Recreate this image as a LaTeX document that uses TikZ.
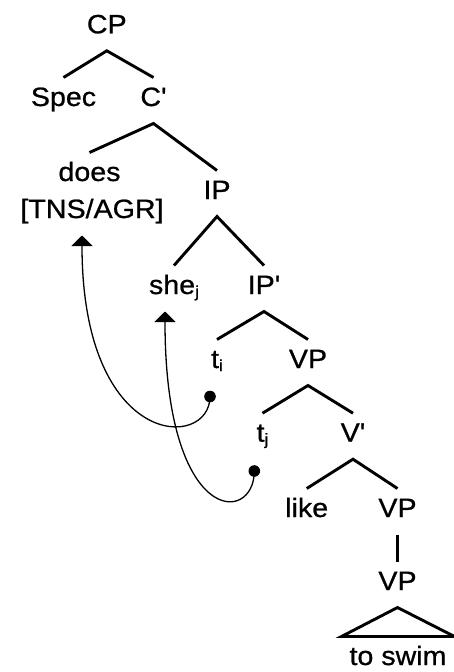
\documentclass[tikz,border=0pt]{standalone}
\usepackage{fontspec}
\newfontfamily\labfont{Liberation Sans}[FakeStretch=1.08,FakeBold=0.8]
\usetikzlibrary{arrows.meta}
\newcommand\subs[1]{\raisebox{-3pt}{\fontsize{16}{16}\selectfont #1}}
\begin{document}
\begin{tikzpicture}[x=1pt,y=-1pt,
  lbl/.style={anchor=base,inner sep=0pt,outer sep=0pt,text height=28.5pt,text depth=17.5pt,
    font=\labfont\fontsize{26.5}{30}\selectfont},
  branch/.style={line width=2.9pt},
  move/.style={line width=1.3pt,-{Triangle[width=21pt,length=10.5pt]}},
  trace/.style={fill=black}]
\useasboundingbox (0,0) rectangle (454,672);
\node[lbl] (cp)   at (106.8,33.3) {CP};
\node[lbl] (spec) at (63.5,106) {Spec};
\node[lbl] (cbar) at (153.5,106) {C'};
\node[lbl] (does) at (89.5,181) {does};
\node[lbl] (tns)  at (92,218) {[TNS/AGR]};
\node[lbl] (ip)   at (217,199) {IP};
\node[lbl] (she)  at (174,294) {she\subs{j}};
\node[lbl] (ipbar) at (264,294) {IP'};
\node[lbl] (ti)   at (217,368) {t\subs{i}};
\node[lbl] (vp1)  at (308,368) {VP};
\node[lbl] (tj)   at (262.5,441.7) {t\subs{j}};
\node[lbl] (vbar) at (353,441.7) {V'};
\node[lbl] (like) at (306.7,517) {like};
\node[lbl] (vp2)  at (397.5,517) {VP};
\node[lbl] (vp3)  at (397.5,590) {VP};
\node[lbl] (swim) at (398,665) {to swim};
\draw[branch] (spec.north) -- (cp.south) -- (cbar.north);
\draw[branch] (does.north) -- (cbar.south) -- (ip.north);
\draw[branch] (she.north) -- (ip.south) -- (ipbar.north);
\draw[branch] (ti.north) -- (ipbar.south) -- (vp1.north);
\draw[branch] (tj.north) -- (vp1.south) -- (vbar.north);
\draw[branch] (like.north) -- (vbar.south) -- (vp2.north);
\draw[branch] (vp2.south) -- (vp3.north);
\draw[branch] ([xshift=-56.5pt]swim.north) -- (vp3.south) -- ([xshift=56.5pt]swim.north) -- cycle;
\coordinate (dot1) at (210,396.5);
\coordinate (dot2) at (254.3,471);
\coordinate (goal1) at ([xshift=-10pt]tns.south);
\coordinate (goal2) at ([xshift=-9pt]she.south);
\fill[trace] (dot1) circle (5.8pt);
\fill[trace] (dot2) circle (5.8pt);
\draw[move] (dot1) .. controls +(0,54) and +(0,215) .. (goal1);
\draw[move] (dot2) .. controls +(0,54) and +(0,215) .. (goal2);
\end{tikzpicture}
\end{document}
